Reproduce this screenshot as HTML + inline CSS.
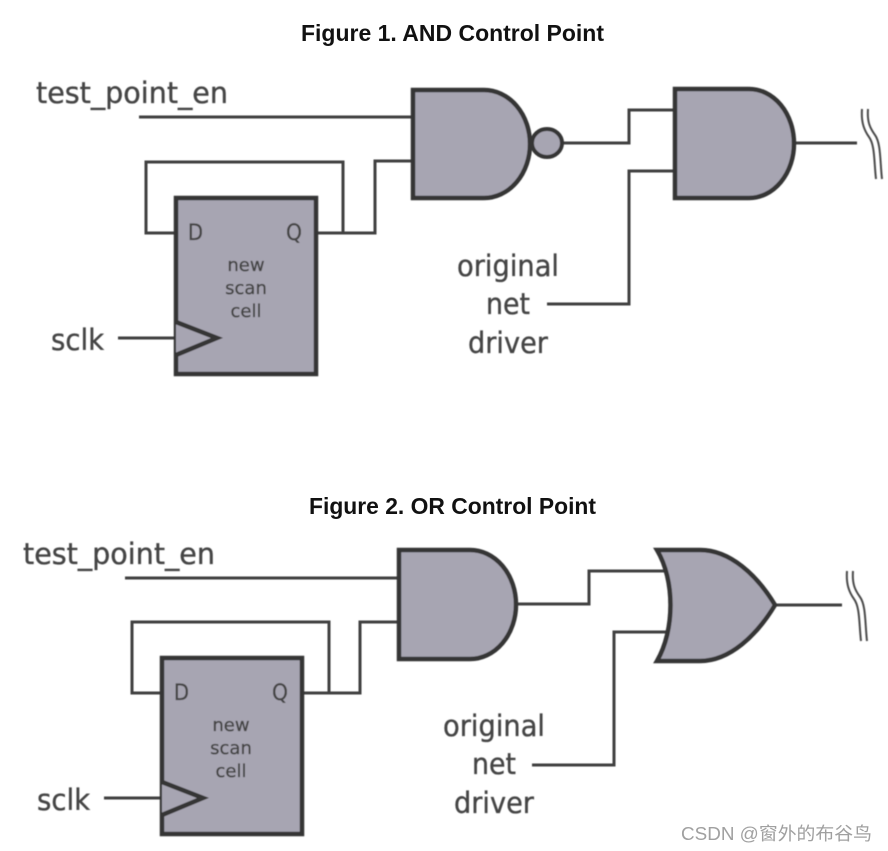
<!DOCTYPE html>
<html><head><meta charset="utf-8">
<style>html,body{margin:0;padding:0;background:#fff;width:888px;height:851px;overflow:hidden}svg{display:block}</style>
</head><body>
<svg width="888" height="851" viewBox="0 0 888 851" xmlns="http://www.w3.org/2000/svg">
<defs><filter id="b" x="-5%" y="-5%" width="110%" height="110%"><feGaussianBlur stdDeviation="0.55"/></filter></defs>
<g font-family="'Liberation Sans',sans-serif" font-weight="700" font-size="23" fill="#111">
<text x="301" y="41" textLength="303" lengthAdjust="spacingAndGlyphs">Figure 1. AND Control Point</text>
<text x="309" y="514" textLength="287" lengthAdjust="spacingAndGlyphs">Figure 2. OR Control Point</text>
</g>
<g filter="url(#b)">
<g id="f1">
<g fill="none" stroke="#3f3f3f" stroke-width="3">
<path d="M139 117H413M176 233H146V162H343V233M316 233H375V161H413M118 338H176M562 143H629V110H674M547 304H629V171H674M796 143H857"/>
</g>
<g fill="#a7a5b2" stroke="#353535" stroke-width="4.5">
<path d="M413 90H484A46 54 0 0 1 484 198H413Z"/>
<ellipse cx="547" cy="143" rx="15" ry="14" stroke-width="4"/>
<path d="M675 89H749A45 54.5 0 0 1 749 198H675Z"/>
<rect x="176" y="198" width="140" height="176"/>
<path d="M176 322L217 338L176 355" stroke-width="4.5"/>
</g>
<path d="M862 109C861 122 864 130 869 137C875 145 874 162 876 179M868 109C867 122 870 128 875 135C881 143 880 162 882 179" fill="none" stroke="#4a4a4a" stroke-width="2"/>
<g font-family="'DejaVu Sans',sans-serif" fill="#444" stroke="#444" stroke-width="0.35" font-size="29">
<text x="36" y="103" textLength="192" lengthAdjust="spacingAndGlyphs">test_point_en</text>
<text x="51" y="350" textLength="53" lengthAdjust="spacingAndGlyphs">sclk</text>
<text x="457" y="276" textLength="102" lengthAdjust="spacingAndGlyphs">original</text>
<text x="486" y="314" textLength="44" lengthAdjust="spacingAndGlyphs">net</text>
<text x="468" y="353" textLength="80" lengthAdjust="spacingAndGlyphs">driver</text>
<g font-size="22">
<text x="188" y="240" textLength="15" lengthAdjust="spacingAndGlyphs">D</text>
<text x="286" y="240" textLength="16" lengthAdjust="spacingAndGlyphs">Q</text>
</g>
<g font-size="18" text-anchor="middle">
<text x="246" y="271">new</text>
<text x="246" y="294">scan</text>
<text x="246" y="317">cell</text>
</g>
</g>
</g>
<g id="f2">
<g fill="none" stroke="#3f3f3f" stroke-width="3">
<path d="M125 578H398M162 693H132V622H329V693M302 693H360V622H398M104 798H162M518 604H589V571H668M532 765H614V632H667M776 605H842"/>
</g>
<g fill="#a7a5b2" stroke="#353535" stroke-width="4.5">
<path d="M399 550H470A46 54.5 0 0 1 470 659H399Z"/>
<path d="M657 550H700C730 550 757 575 775 605C757 635 730 661 700 661H657C675 630 675 580 657 550Z"/>
<rect x="162" y="658" width="140" height="176"/>
<path d="M162 782L203 798L162 815" stroke-width="4.5"/>
</g>
<path d="M847 571C846 584 849 592 854 599C860 607 859 624 861 641M853 571C852 584 855 590 860 597C866 605 865 624 867 641" fill="none" stroke="#4a4a4a" stroke-width="2"/>
<g font-family="'DejaVu Sans',sans-serif" fill="#444" stroke="#444" stroke-width="0.35" font-size="29">
<text x="23" y="564" textLength="192" lengthAdjust="spacingAndGlyphs">test_point_en</text>
<text x="37" y="810" textLength="53" lengthAdjust="spacingAndGlyphs">sclk</text>
<text x="443" y="736" textLength="102" lengthAdjust="spacingAndGlyphs">original</text>
<text x="472" y="774" textLength="44" lengthAdjust="spacingAndGlyphs">net</text>
<text x="454" y="813" textLength="80" lengthAdjust="spacingAndGlyphs">driver</text>
<g font-size="22">
<text x="174" y="700" textLength="15" lengthAdjust="spacingAndGlyphs">D</text>
<text x="272" y="700" textLength="16" lengthAdjust="spacingAndGlyphs">Q</text>
</g>
<g font-size="18" text-anchor="middle">
<text x="231" y="731">new</text>
<text x="231" y="754">scan</text>
<text x="231" y="777">cell</text>
</g>
</g>
</g>
</g>
<text x="681" y="840" font-family="'Liberation Sans','Noto Sans CJK SC',sans-serif" font-size="18" fill="#a0a0a0" textLength="191" lengthAdjust="spacingAndGlyphs">CSDN @窗外的布谷鸟</text>
</svg>
</body></html>
